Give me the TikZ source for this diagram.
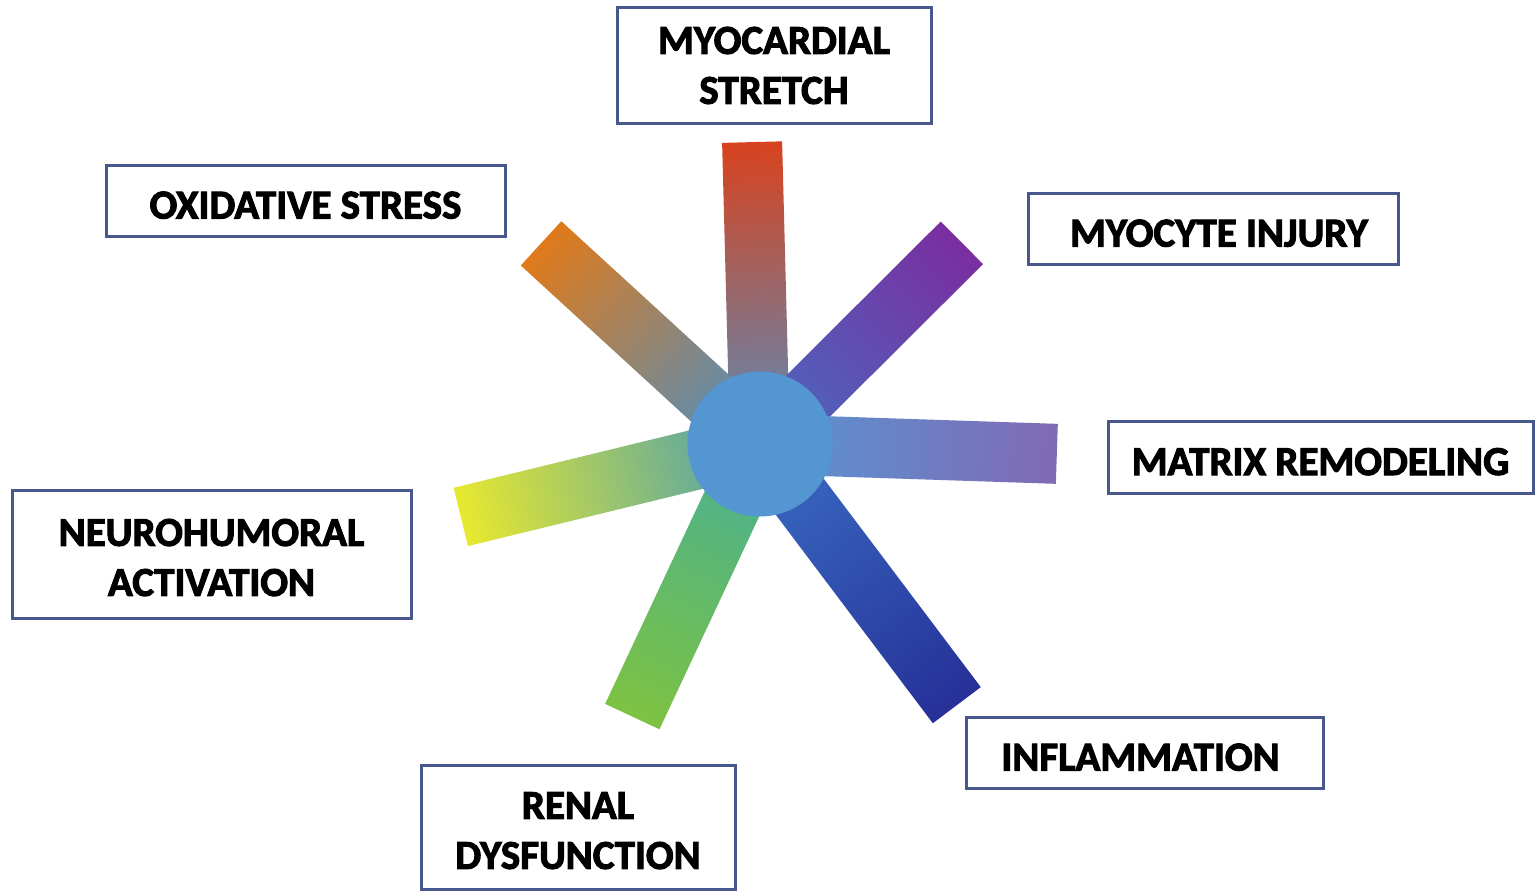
\documentclass[tikz,border=0pt]{standalone}
\usepackage{fontspec}
\setmainfont{Carlito}[BoldFeatures={FakeBold=2.5}]
\definecolor{boxblue}{RGB}{72,88,140}
\definecolor{hubblue}{RGB}{84,150,210}
\definecolor{cRed}{RGB}{216,66,30}
\definecolor{cRedIn}{RGB}{90,140,185}
\definecolor{cPurple}{RGB}{122,46,160}
\definecolor{cPurpleIn}{RGB}{72,108,192}
\definecolor{cLav}{RGB}{128,106,180}
\definecolor{cLavIn}{RGB}{88,150,212}
\definecolor{cNavy}{RGB}{38,48,152}
\definecolor{cNavyIn}{RGB}{58,110,196}
\definecolor{cGreen}{RGB}{125,194,66}
\definecolor{cGreenIn}{RGB}{70,176,150}
\definecolor{cYellow}{RGB}{232,232,46}
\definecolor{cYellowIn}{RGB}{72,158,178}
\definecolor{cOrange}{RGB}{224,122,26}
\definecolor{cOrangeIn}{RGB}{72,144,200}
\newcommand\labfont{\fontsize{41}{50}\selectfont\bfseries}
% angle, length, outer colour, inner colour
\newcommand\myspoke[4]{%
  \begin{scope}[transform canvas={shift={(760,-444)},rotate=#1}]
    \shade[left color=#4, right color=#3] (0,-30) rectangle (#2,30);
  \end{scope}}
\begin{document}
\begin{tikzpicture}[x=1pt,y=1pt,
  lbl/.style={draw=boxblue, line width=3pt, fill=white, inner sep=0pt,
              align=center, font=\labfont, text=black},
  oneline/.style={text height=36pt, text depth=0pt}]
\useasboundingbox (0,0) rectangle (1535,-891);
\fill[white] (0,0) rectangle (1535,-891);
% spokes
\myspoke{91.5}{302}{cRed}{cRedIn}
\myspoke{44.9}{285}{cPurple}{cPurpleIn}
\myspoke{-1.9}{297}{cLav}{cLavIn}
\myspoke{-53.0}{327}{cNavy}{cNavyIn}
\myspoke{-115.1}{301}{cGreen}{cGreenIn}
\myspoke{193.7}{308}{cYellow}{cYellowIn}
\myspoke{137.5}{297}{cOrange}{cOrangeIn}
% hub
\node[circle, fill=hubblue, minimum size=145pt, inner sep=0pt] (hub) at (760,-444) {};
% labels
\node[lbl, minimum width=314pt, minimum height=115pt] (stretch) at (774,-65.5) {MYOCARDIAL\\STRETCH};
\node[lbl, oneline, minimum width=399pt, minimum height=71pt] (oxid) at (305.5,-200.5) {OXIDATIVE STRESS};
\node[lbl, oneline, minimum width=370pt, minimum height=71pt] (injury) at (1213,-228.5) {\hspace*{12pt}MYOCYTE INJURY};
\node[lbl, oneline, minimum width=425pt, minimum height=72pt] (matrix) at (1320.5,-457) {MATRIX REMODELING};
\node[lbl, minimum width=399pt, minimum height=128pt] (neuro) at (211.5,-554) {\rule{0pt}{34pt}NEUROHUMORAL\\ACTIVATION};
\node[lbl, oneline, minimum width=357pt, minimum height=71pt] (inflam) at (1144.5,-752.5) {INFLAMMATION\hspace*{8pt}};
\node[lbl, minimum width=314pt, minimum height=124pt] (renal) at (578,-827) {\rule{0pt}{34pt}RENAL\\DYSFUNCTION};
\end{tikzpicture}
\end{document}
